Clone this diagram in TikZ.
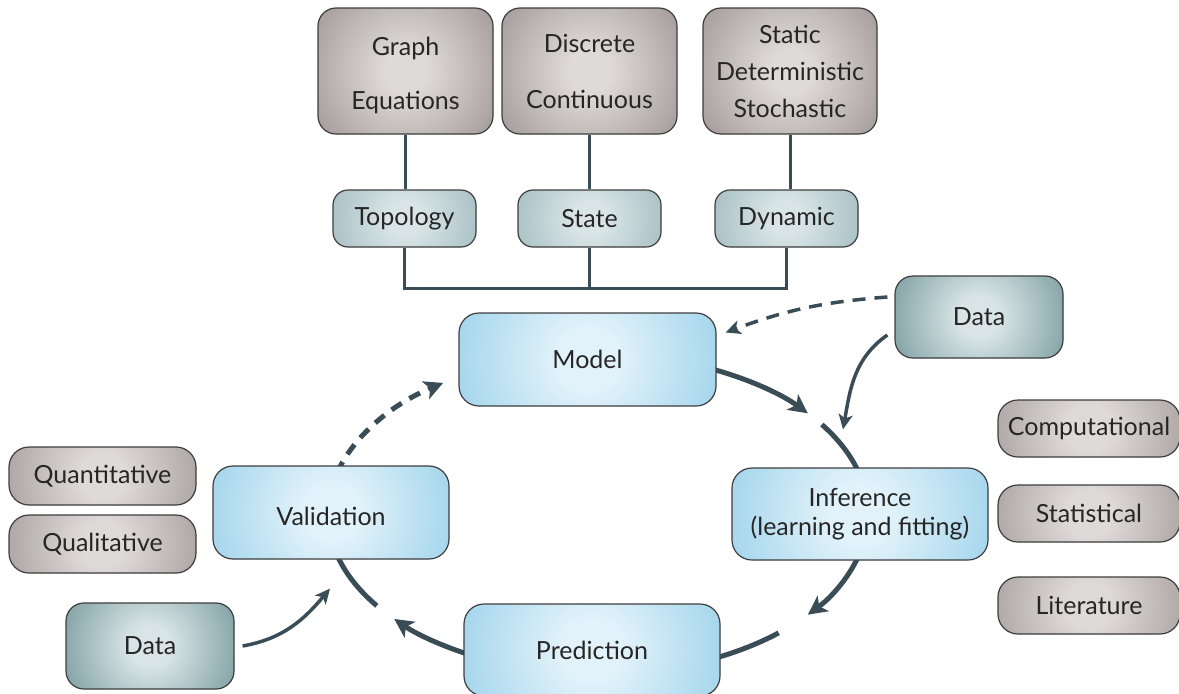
\documentclass[tikz,border=0pt]{standalone}
\usepackage{fontspec}
\setmainfont{Lato}
\usetikzlibrary{arrows.meta,calc}

\definecolor{arrowc}{RGB}{58,77,87}
\definecolor{edgec}{RGB}{62,62,62}
\definecolor{txt}{RGB}{38,38,38}
\definecolor{grayout}{RGB}{148,139,137}
\definecolor{grayin}{RGB}{222,218,217}
\definecolor{tealout}{RGB}{146,175,180}
\definecolor{tealin}{RGB}{216,228,230}
\definecolor{dataout}{RGB}{92,133,138}
\definecolor{datain}{RGB}{216,228,229}
\definecolor{blueout}{RGB}{134,199,229}
\definecolor{bluein}{RGB}{225,242,250}

\pgfdeclareradialshading{shgray}{\pgfpoint{0bp}{0bp}}{color(0bp)=(grayin); color(6bp)=(grayin); color(36bp)=(grayout); color(50bp)=(grayout)}
\pgfdeclareradialshading{shteal}{\pgfpoint{0bp}{0bp}}{color(0bp)=(tealin); color(6bp)=(tealin); color(36bp)=(tealout); color(50bp)=(tealout)}
\pgfdeclareradialshading{shdata}{\pgfpoint{0bp}{0bp}}{color(0bp)=(datain); color(6bp)=(datain); color(36bp)=(dataout); color(50bp)=(dataout)}
\pgfdeclareradialshading{shblue}{\pgfpoint{0bp}{0bp}}{color(0bp)=(bluein); color(6bp)=(bluein); color(36bp)=(blueout); color(50bp)=(blueout)}

\begin{document}
\begin{tikzpicture}[x=1pt,y=-1pt,
  box/.style={draw=edgec, line width=1.2pt, rounded corners=18pt, inner sep=0pt,
    align=center, text=txt, font=\fontsize{25}{30}\selectfont},
  shsq/.style 2 args={path picture={\shade[shading=#1]
      ([shift={(-#2,-#2)}]path picture bounding box.center) rectangle
      ([shift={(#2,#2)}]path picture bounding box.center);}},
  graybox/.style={box, fill=grayout, shsq={shgray}{#1}},
  graybox/.default=90,
  tealbox/.style={box, rounded corners=15pt, fill=tealout, shsq={shteal}{73}},
  databox/.style={box, fill=dataout, shsq={shdata}{86}},
  bluebox/.style={box, rounded corners=20pt, fill=blueout, shsq={shblue}{#1}},
  bluebox/.default=130,
  sidebox/.style={graybox=94, rounded corners=20pt, minimum width=182pt, minimum height=57pt},
  linkline/.style={draw=arrowc, line width=3pt},
  cycarrow/.style={draw=arrowc, line width=5pt, -{Stealth[length=19pt,width=19pt,inset=5pt]}},
  cycline/.style={draw=arrowc, line width=5pt},
  cycdash/.style={cycarrow, dash pattern=on 12pt off 9pt},
  thinarrow/.style={draw=arrowc, line width=3.5pt, -{Stealth[length=15pt,width=14pt,inset=4pt]}},
  thindash/.style={thinarrow, dash pattern=on 13pt off 9pt}
]
\useasboundingbox (0,0) rectangle (1179,694);

% cycle arcs (ellipse centre (598,514), radii 270 and 160)
\coordinate (a1) at ({598+270*cos(-66)},{514+160*sin(-66)});
\coordinate (a2) at ({598+270*cos(-34)},{514+160*sin(-34)});
\coordinate (a3) at ({598+270*cos(14)},{514+160*sin(14)});
\coordinate (a4) at ({598+270*cos(48)},{514+160*sin(48)});
\coordinate (a5) at ({598+270*cos(116)},{514+160*sin(116)});
\coordinate (a6) at ({598+270*cos(145)},{514+160*sin(145)});
\coordinate (a7) at ({598+270*cos(195)},{514+160*sin(195)});
\draw[cycarrow] (a1) arc[start angle=-66, end angle=-39, x radius=270, y radius=160];
\draw[cycline]  (a2) arc[start angle=-34, end angle=-12, x radius=270, y radius=160];
\draw[cycarrow] (a3) arc[start angle=14, end angle=39, x radius=270, y radius=160];
\draw[cycline]  (a4) arc[start angle=48, end angle=66, x radius=270, y radius=160];
\draw[cycarrow] (a5) arc[start angle=116, end angle=139, x radius=270, y radius=160];
\draw[cycline]  (a6) arc[start angle=145, end angle=167, x radius=270, y radius=160];
\draw[cycdash]  (a7) arc[start angle=195, end angle=235, x radius=270, y radius=160];

% top boxes
\node[graybox, minimum width=175pt, minimum height=126pt] (g1) at (405.5,71) {\rule{0pt}{28pt}Graph\\[24pt]Equations};
\node[graybox, minimum width=175pt, minimum height=126pt] (g2) at (589.5,71) {Discrete\\[26pt]Continuous};
\node[graybox, minimum width=174pt, minimum height=126pt] (g3) at (790,71) {Static\\[7pt]Deterministic\\[7pt]Stochastic};

\node[tealbox, minimum width=143pt, minimum height=57pt] (t1) at (404.5,218.5) {Topology};
\node[tealbox, minimum width=143pt, minimum height=57pt] (t2) at (589.5,218.5) {State};
\node[tealbox, minimum width=143pt, minimum height=57pt] (t3) at (786.5,218.5) {Dynamic};

\draw[linkline] (g1.south) -- (g1.south |- t1.north);
\draw[linkline] (g2.south) -- (g2.south |- t2.north);
\draw[linkline] (g3.south) -- (g3.south |- t3.north);
\coordinate (bj) at (589.5,288);
\draw[linkline] (t1.south) |- (bj) -| (t3.south);
\draw[linkline] (t2.south) -- (bj);

% cycle boxes
\node[bluebox, minimum width=257pt, minimum height=93pt] (model) at (587.5,359.5) {Model};
\node[bluebox, minimum width=256pt, minimum height=92pt, font=\fontsize{25}{29}\selectfont] (inf) at (860,514) {Inference\\(learning and fitting)};
\node[bluebox, minimum width=256pt, minimum height=92pt] (pred) at (592,650) {Prediction};
\node[bluebox=120, minimum width=236pt, minimum height=93pt] (val) at (331,512.5) {\rule{0pt}{26pt}Validation};

% data boxes
\node[databox, minimum width=168pt, minimum height=82pt] (data1) at (979,317) {Data};
\node[databox, minimum width=168pt, minimum height=86pt] (data2) at (150,646) {Data};

% side boxes
\node[sidebox] (comp) at (1089,428.5) {Computational};
\node[sidebox] (stat) at (1089,513.5) {Statistical};
\node[sidebox] (lit)  at (1089,605.5) {Literature};
\node[sidebox, minimum width=187pt, minimum height=58pt] (quant) at (102.5,476) {Quantitative};
\node[sidebox, minimum width=187pt, minimum height=58pt] (qual)  at (102.5,544) {Qualitative};

% data arrows
\draw[thindash] ([shift={(-7,-20)}]data1.west) to[bend right=8] ([shift={(9,-27)}]model.east);
\draw[thinarrow] ([shift={(-7,18)}]data1.west) to[out=215,in=80] ([shift={(-17,-38)}]inf.north);
\draw[thinarrow] ([shift={(8,0)}]data2.east) to[out=10,in=230] ([shift={(-1,29)}]val.south);
\end{tikzpicture}
\end{document}
